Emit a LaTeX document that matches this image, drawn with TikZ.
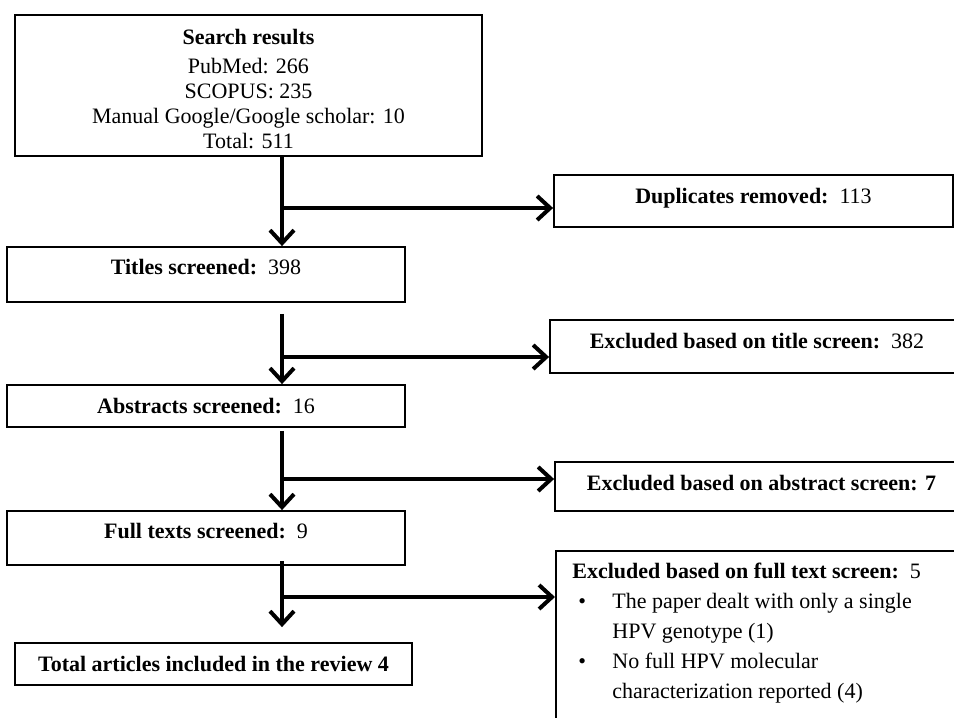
\documentclass[tikz,border=0pt]{standalone}
\usepackage{fontspec}
\setmainfont{Liberation Serif}
\usetikzlibrary{positioning,arrows.meta}

\begin{document}
\begin{tikzpicture}[x=0.5pt, y=-0.5pt, font=\fontsize{11}{12.5}\selectfont,
	box/.style={draw, line width=0.9pt, inner sep=0pt, align=center},
	oneline/.style={box, text height=7.5pt, text depth=#1},
	flow/.style={line width=2pt, -{Straight Barb[length=6.5pt,width=12pt]}}]
	\path[use as bounding box] (0,0) rectangle (954,718);
	\clip (0,0) rectangle (954,718);
	
	%--- screening steps (left column)
	\node[box, minimum width=233.5pt, minimum height=70.5pt] (search) at (248.5,85.5)
		{\mbox{}\\[-1pt]\textbf{Search results}\\[2pt]PubMed: 266\\SCOPUS: 235\\Manual Google/Google scholar: 10\\Total: 511};
	\node[oneline=7.5pt, minimum width=199pt, minimum height=27.5pt] (titles) at (206,274.5) {\textbf{Titles screened:}\ \ 398};
	\node[oneline=0pt, minimum width=199pt, minimum height=21pt] (abs) at (206,406) {\textbf{Abstracts screened:}\ \ 16};
	\node[oneline=7.5pt, minimum width=199pt, minimum height=27pt] (full) at (206,538) {\textbf{Full texts screened:}\ \ 9};
	\node[oneline=0pt, minimum width=198.5pt, minimum height=21pt] (total) at (213.5,664) {\textbf{Total articles included in the review 4}};
	
	%--- exclusions (right column, cut by the page edge)
	\node[oneline=5.5pt, minimum width=199.5pt, minimum height=26pt] (dup) at (753.5,201) {\textbf{Duplicates removed:}\ \ 113};
	\node[oneline=6pt, minimum width=207pt, minimum height=26.5pt] (extitle) at (757,346.5) {\textbf{Excluded based on title screen:}\ \ 382};
	\node[oneline=4pt, minimum width=206.5pt, minimum height=24.5pt] (exabs) at (761.5,486.5) {\textbf{Excluded based on abstract screen: 7}};
	\node[box, anchor=north west, minimum width=250pt, minimum height=150pt] (exfull) at (555,550) {};
	\node[anchor=base west, inner sep=0pt, font=\fontsize{11}{14.75}\selectfont] (exfulltxt)
		at ([shift={(8.5pt,-14pt)}]exfull.north west) {%
		\begin{tabular}[t]{@{\hspace{3pt}}p{17pt}@{}p{180pt}@{}}
			\multicolumn{2}{@{}l@{}}{\textbf{Excluded based on full text screen:}\ \ 5}\\[0.5pt]
			\textbullet & The paper dealt with only a single\newline HPV genotype (1)\\[0.5pt]
			\textbullet & No full HPV molecular\newline characterization reported (4)
		\end{tabular}};
	
	%--- main spine
	\coordinate (sp) at (282,0);
	\draw[flow] (search.south -| sp) -- (titles.north -| sp);
	\draw[flow, shorten <=5.5pt] (titles.south -| sp) -- (abs.north -| sp);
	\draw[flow, shorten <=1.5pt] (abs.south -| sp) -- (full.north -| sp);
	\draw[flow, shorten <=-2.5pt, shorten >=7.5pt] (full.south -| sp) -- (total.north -| sp);
	
	%--- branches to the exclusion boxes
	\foreach \y/\t in {208/dup, 357/extitle, 479/exabs, 597/exfull}{
		\coordinate (j\t) at (282,\y);
		\draw[flow] (j\t) -- (j\t -| \t.west);}
\end{tikzpicture}
\end{document}
